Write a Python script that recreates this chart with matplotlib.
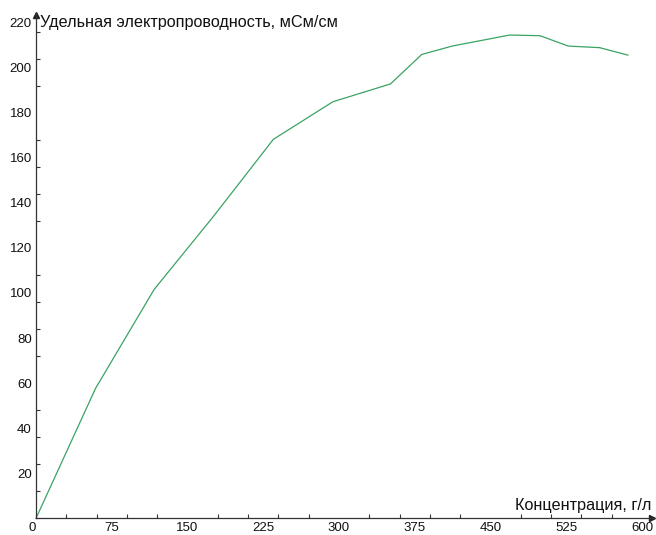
import matplotlib
matplotlib.use('Agg')
import matplotlib.pyplot as plt
from matplotlib.ticker import MultipleLocator, FixedLocator

plt.rcParams['font.family'] = ['Liberation Sans', 'DejaVu Sans']

# concentration, g/l  and specific conductivity, mS/cm
conc = [0, 59, 117, 175.5, 235, 294, 351, 382, 412, 469, 499, 527, 558, 586]
cond = [0, 57.7, 101.6, 133.9, 168.2, 184.9, 192.8, 205.9, 209.6, 214.5, 214.2, 209.6, 208.9, 205.6]

x_labels = [0, 75, 150, 225, 300, 375, 450, 525, 600]
y_labels = [20, 40, 60, 80, 100, 120, 140, 160, 180, 200, 220]

W, H = 656, 535
fig = plt.figure(figsize=(W / 100, H / 100), dpi=100)

x0, y0 = 36, 518.3
xmax, ymax = 612, 224.4
ax = fig.add_axes([x0 / W, (H - y0) / H, xmax * 1.01 / W, ymax * 2.253 / H])
ax.set_xlim(0, xmax)
ax.set_ylim(0, ymax)
ax.patch.set_alpha(0)

ax.plot(conc, cond, color='#3aa363', lw=0.9, clip_on=False)

for s in ('top', 'right'):
    ax.spines[s].set_visible(False)
for s in ('left', 'bottom'):
    ax.spines[s].set_color('#333333')
    ax.spines[s].set_linewidth(0.9)

# arrow heads
ax.plot(xmax - 2, 0, marker='>', ms=4.5, color='#222222', clip_on=False)
ax.plot(0, ymax - 1, marker='^', ms=4.5, color='#222222', clip_on=False)

# labels at 75 / 20, small ticks at 30 / 12
ax.xaxis.set_major_locator(FixedLocator(x_labels))
ax.yaxis.set_major_locator(FixedLocator(y_labels))
ax.xaxis.set_minor_locator(MultipleLocator(30))
ax.yaxis.set_minor_locator(MultipleLocator(12))
ax.tick_params(which='major', length=0, labelsize=9.5, pad=3, colors='#111111')
ax.tick_params(axis='x', which='major', pad=3)
ax.tick_params(which='minor', length=3, width=0.8, direction='in', color='#333333')
ax.set_yticklabels([str(v) for v in y_labels])
ax.set_xticklabels([str(v) for v in x_labels])
ax.xaxis.get_majorticklabels()[0].set_horizontalalignment('right')

ax.text(4, 220, 'Удельная электропроводность, мСм/см', fontsize=11.7,
        ha='left', va='center', color='#111111')
ax.text(609, 5.5, 'Концентрация, г/л', fontsize=11.7,
        ha='right', va='center', color='#111111')

fig.savefig('out.png', dpi=100)
